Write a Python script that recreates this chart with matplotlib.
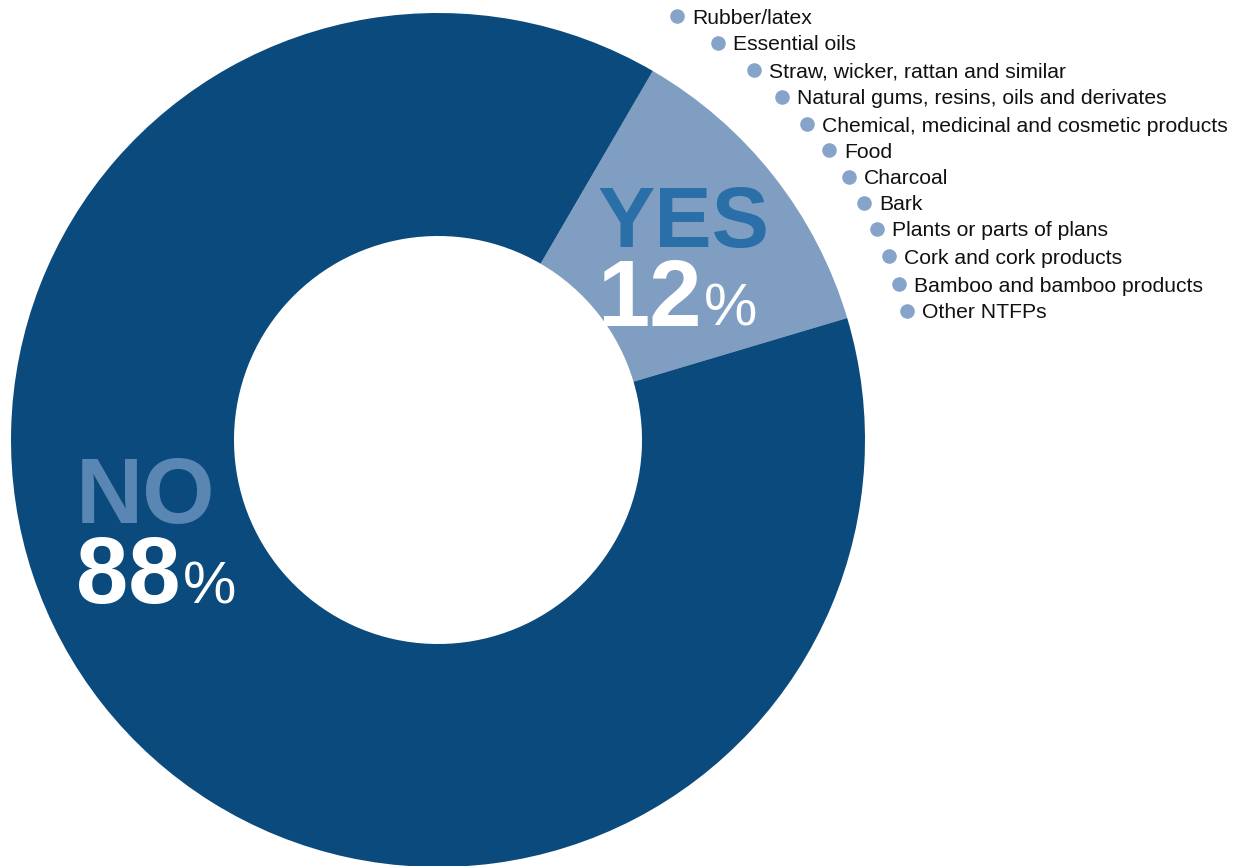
import matplotlib
matplotlib.use("Agg")
import matplotlib.pyplot as plt

plt.rcParams['font.family'] = ['Liberation Sans', 'DejaVu Sans']

categories = ["YES", "NO"]
shares = [12, 88]
ntfp_labels = ["Rubber/latex", "Essential oils", "Straw, wicker, rattan and similar",
               "Natural gums, resins, oils and derivates",
               "Chemical, medicinal and cosmetic products", "Food", "Charcoal", "Bark",
               "Plants or parts of plans", "Cork and cork products",
               "Bamboo and bamboo products", "Other NTFPs"]

W, H = 1242, 866
fig = plt.figure(figsize=(W / 100, H / 100), dpi=100)
ax = fig.add_axes([0, 0, 1, 1])

cx, cy, R, r = 438, -440, 427, 204
colors = ["#7f9ec2", "#0b4a7c"]
wedges, _ = ax.pie(shares, colors=colors, startangle=16.6, counterclock=True,
                   center=(cx, cy), radius=R, frame=True,
                   wedgeprops=dict(width=R - r, linewidth=0))
ax.set_xlim(0, W)
ax.set_ylim(-H, 0)
ax.set_aspect('equal')
ax.axis('off')

px = 100 / 72  # px per pt

# YES label
ax.text(598, -247, categories[0], color="#2a6fa7", fontsize=86 / px, fontweight='bold',
        ha='left', va='baseline')
ax.text(597, -326, f"{shares[0]}", color="white", fontsize=94 / px, fontweight='bold',
        ha='left', va='baseline')
ax.text(704, -326, "%", color="white", fontsize=60 / px, ha='left', va='baseline')

# NO label
ax.text(76, -523, categories[1], color="#5a86b4", fontsize=93 / px, fontweight='bold',
        ha='left', va='baseline')
ax.text(76, -603, f"{shares[1]}", color="white", fontsize=94 / px, fontweight='bold',
        ha='left', va='baseline')
ax.text(183, -603, "%", color="white", fontsize=60 / px, ha='left', va='baseline')

# NTFP list
bx = [677, 718, 754, 782, 807, 829, 849, 864, 877, 889, 899, 907]
by = [16, 43, 70, 97, 124, 150, 177, 203, 229, 256, 284, 311]
for x, y, lab in zip(bx, by, ntfp_labels):
    ax.plot([x], [-y], 'o', color="#86a4ca", markersize=10.5, markeredgewidth=0)
    ax.text(x + 15, -y - 7.5, lab, color="#111111", fontsize=15.2, ha='left', va='baseline')

fig.savefig("out.png", dpi=100)
